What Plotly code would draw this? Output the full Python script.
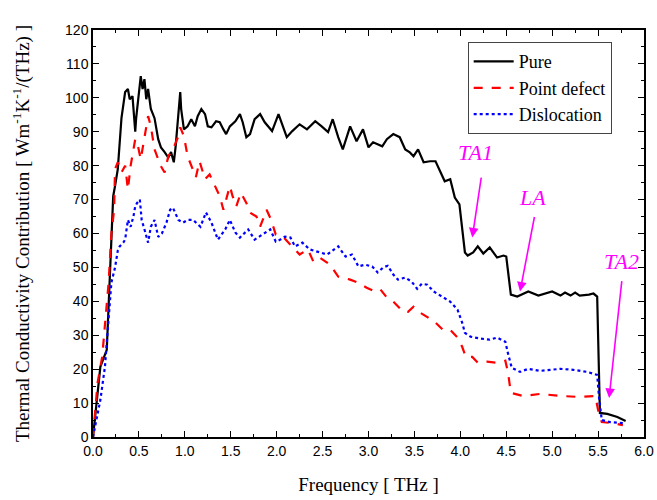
import plotly.graph_objects as go

# ---------------- data ----------------
pure_x = [0.0, 0.05, 0.08, 0.15, 0.2, 0.22, 0.24, 0.27, 0.31, 0.35, 0.38, 0.40, 0.43, 0.46, 0.47, 0.50, 0.52,
          0.54, 0.56, 0.58, 0.60, 0.63, 0.67, 0.71, 0.74, 0.78, 0.82, 0.85, 0.88, 0.90, 0.93, 0.95, 0.96, 0.99,
          1.03, 1.07, 1.11, 1.14, 1.18, 1.22, 1.25, 1.29, 1.34, 1.38, 1.42, 1.45, 1.49, 1.55, 1.60, 1.63, 1.67,
          1.71, 1.76, 1.82, 1.87, 1.95, 2.02, 2.06, 2.11, 2.17, 2.25, 2.33, 2.42, 2.49, 2.56, 2.61, 2.67, 2.72,
          2.80, 2.87, 2.94, 3.00, 3.05, 3.15, 3.20, 3.27, 3.34, 3.40, 3.45, 3.49, 3.54, 3.60, 3.67, 3.73, 3.78,
          3.83, 3.89, 3.94, 3.99, 4.02, 4.05, 4.08, 4.14, 4.19, 4.25, 4.32, 4.40, 4.47, 4.50, 4.55, 4.62, 4.74,
          4.85, 5.00, 5.09, 5.14, 5.20, 5.25, 5.30, 5.40, 5.45, 5.49, 5.52, 5.60, 5.71, 5.80]
pure_y = [0, 14, 20.7, 25.7, 60, 71, 74, 79, 94, 101.7, 102.6, 99.6, 100.5, 90, 94, 100.5, 106.4,
          102.6, 105.5, 99.6, 102.6, 96.7, 94, 87.8, 85.4, 84, 82.4, 84, 81, 85.7, 95.8, 101.7, 96.7, 90.7,
          91.6, 93.7, 91.6, 94.6, 96.7, 95.2, 91.6, 91.3, 93.1, 92.8, 90.7, 89.3, 91.6, 93.1, 95.2, 92.8, 88.4,
          89.3, 93.7, 95.2, 92.8, 90.2, 95.2, 92.2, 88.4, 90.2, 92.2, 90.7, 93.1, 91.6, 89.9, 93.7, 88.4, 84.8,
          91.6, 87.2, 90.7, 85.4, 86.9, 85.7, 87.8, 89.3, 88.4, 84.8, 83.9, 82.8, 84.8, 81, 81.3, 81.3, 78.3,
          75.4, 76, 70.6, 68.6, 62, 54.4, 53.5, 54.4, 56.2, 54.1, 55.9, 52.9, 53.5, 53.2, 42, 41.4, 42.9,
          41.7, 42.9, 41.7, 42.6, 41.7, 42.6, 41.7, 42, 42.3, 41.4, 7.1, 6.8, 5.9, 4.7]

point_x = [0.0, 0.05, 0.10, 0.13, 0.17, 0.20, 0.23, 0.24, 0.27, 0.31, 0.35, 0.38, 0.41, 0.46, 0.49, 0.52,
           0.57, 0.60, 0.63, 0.67, 0.71, 0.74, 0.78, 0.82, 0.87, 0.93, 0.95, 0.99, 1.03, 1.07, 1.12, 1.16,
           1.22, 1.27, 1.33, 1.38, 1.42, 1.49, 1.52, 1.56, 1.61, 1.67, 1.72, 1.78, 1.82, 1.89, 1.94, 1.99,
           2.07, 2.15, 2.25, 2.34, 2.40, 2.47, 2.58, 2.67, 2.80, 2.89, 2.98, 3.07, 3.13, 3.20, 3.27, 3.38,
           3.43, 3.49, 3.56, 3.65, 3.73, 3.81, 3.89, 3.97, 4.02, 4.06, 4.13, 4.19, 4.29, 4.40, 4.49, 4.52,
           4.55, 4.68, 4.87, 5.09, 5.30, 5.47, 5.50, 5.54, 5.66, 5.77]
point_y = [0, 16, 23.6, 33.7, 45.5, 60, 67, 79, 81, 78, 80, 73, 80, 87.8, 85.7, 81.9,
           90.7, 94.6, 91.6, 84.8, 81.9, 79.8, 78, 82.8, 84.8, 88.7, 91.3, 88.7, 82.8, 79.8, 76.6, 81.3,
           76, 77.4, 73.9, 71, 67, 74, 71, 68, 72, 69, 66, 65, 62, 67, 64, 59.7,
           59, 56.8, 53.8, 55.3, 51.7, 52.9, 50.8, 47.3, 46.4, 45.5, 44, 42.9, 43.5, 41.1, 39.9, 36.9,
           36.9, 38.4, 36.7, 35.2, 33.7, 31.6, 31.6, 29.3, 26.6, 23.6, 23.6, 21.9, 22.2, 21.9, 22.5, 18.9,
           13, 12.1, 12.7, 12.1, 11.8, 12.1, 8, 4.4, 4.1, 3.5]

disl_x = [0.0, 0.08, 0.13, 0.16, 0.20, 0.24, 0.27, 0.29, 0.33, 0.35, 0.38, 0.41, 0.44, 0.46, 0.48, 0.51,
          0.53, 0.57, 0.60, 0.63, 0.67, 0.71, 0.75, 0.80, 0.84, 0.87, 0.93, 0.98, 1.03, 1.09, 1.17, 1.23,
          1.29, 1.36, 1.44, 1.49, 1.55, 1.60, 1.69, 1.76, 1.85, 1.93, 1.99, 2.04, 2.09, 2.15, 2.20, 2.28,
          2.36, 2.44, 2.55, 2.67, 2.75, 2.82, 2.89, 2.96, 3.04, 3.10, 3.16, 3.21, 3.27, 3.32, 3.40, 3.47,
          3.53, 3.58, 3.64, 3.71, 3.80, 3.89, 3.97, 4.02, 4.05, 4.11, 4.22, 4.32, 4.40, 4.49, 4.52, 4.56,
          4.65, 4.74, 4.87, 5.09, 5.23, 5.38, 5.49, 5.51, 5.54, 5.63, 5.77]
disl_y = [0, 10.9, 20.7, 30.7, 45.5, 50, 55, 56.2, 57.3, 58.2, 64, 62, 65, 68, 69, 70,
          64, 60.3, 57.3, 62, 64, 59, 60, 63.2, 67, 67.6, 64, 63.2, 64, 64, 62, 66.2,
          63.2, 58.2, 61.2, 64, 60.3, 58.8, 61.2, 58.2, 59.7, 61.2, 57.6, 58.2, 59.1, 58.8, 56.2, 57.3,
          55.3, 54.7, 53.8, 56.2, 53.2, 53.8, 50.3, 50.8, 50.3, 48.5, 50, 50.5, 47.9, 46.4, 47, 45.8,
          43.7, 45.2, 44.9, 42.9, 41.4, 39.9, 37.5, 33.7, 30.7, 29.6, 29, 28.7, 29.3, 28.1, 24.5, 20.4,
          19.2, 20.1, 19.5, 20.1, 19.8, 19.2, 18.3, 11.8, 5, 4.4, 4.1]

series_names = ["Pure", "Point defect", "Dislocation"]

# annotation (label, text x, text y, arrow tail x, tail y, tip x, tip y)
arrows = [("TA1", 4.17, 83.8, 4.23, 76.9, 4.13, 58.8),
          ("LA", 4.79, 70.6, 4.81, 65.3, 4.65, 42.9),
          ("TA2", 5.76, 51.7, 5.76, 46.4, 5.62, 11.5)]

x_ticks = [0.0, 0.5, 1.0, 1.5, 2.0, 2.5, 3.0, 3.5, 4.0, 4.5, 5.0, 5.5, 6.0]
y_ticks = list(range(0, 121, 10))

# ---------------- figure ----------------
fig = go.Figure()
fig.add_trace(go.Scatter(x=pure_x, y=pure_y, mode="lines", name=series_names[0],
                         line=dict(color="black", width=2.2)))
fig.add_trace(go.Scatter(x=point_x, y=point_y, mode="lines", name=series_names[1],
                         line=dict(color="#ff0000", width=2.2, dash="dash")))
fig.add_trace(go.Scatter(x=disl_x, y=disl_y, mode="lines", name=series_names[2],
                         line=dict(color="#0000ff", width=2.2, dash="dot")))

magenta = "#ff00ff"
for lab, tx, ty, ax_, ay_, px_, py_ in arrows:
    fig.add_annotation(x=tx, y=ty, text=f"<i>{lab}</i>", showarrow=False,
                       font=dict(family="Liberation Serif", size=22, color=magenta))
    fig.add_annotation(x=px_, y=py_, ax=ax_, ay=ay_, axref="x", ayref="y", text="",
                       showarrow=True, arrowhead=2, arrowsize=1.2, arrowwidth=1.6,
                       arrowcolor=magenta)

axis_common = dict(showline=True, linecolor="black", linewidth=1.5, mirror="ticks",
                   ticks="inside", ticklen=6, tickwidth=1.2, tickcolor="black",
                   showgrid=False, zeroline=False,
                   tickfont=dict(family="Liberation Sans", size=14, color="black"))

fig.update_xaxes(range=[0, 6], tickvals=x_ticks, tickformat=".1f",
                 minor=dict(ticks="inside", ticklen=3, dtick=0.25, tickcolor="black", tickwidth=1.2),
                 title=dict(text="Frequency [ THz ]", standoff=20,
                            font=dict(family="Liberation Serif", size=19, color="black")),
                 **axis_common)
fig.update_yaxes(range=[0, 120], tickvals=y_ticks,
                 minor=dict(ticks="inside", ticklen=3, dtick=5, tickcolor="black", tickwidth=1.2),
                 title=dict(text="Thermal Conductivity Contribution [ Wm<sup>-1</sup>K<sup>-1</sup>/(THz) ]",
                            standoff=30,
                            font=dict(family="Liberation Serif", size=19, color="black")),
                 **axis_common)

fig.update_layout(
    width=657, height=500,
    margin=dict(l=93, r=13, t=30, b=63, autoexpand=False),
    plot_bgcolor="white", paper_bgcolor="white",
    showlegend=True,
    legend=dict(x=0.68, y=0.97, xanchor="left", yanchor="top",
                bgcolor="white", bordercolor="#444", borderwidth=1,
                font=dict(family="Liberation Serif", size=18, color="black"),
                tracegroupgap=0, itemwidth=40),
)

fig.write_html("out.html")
